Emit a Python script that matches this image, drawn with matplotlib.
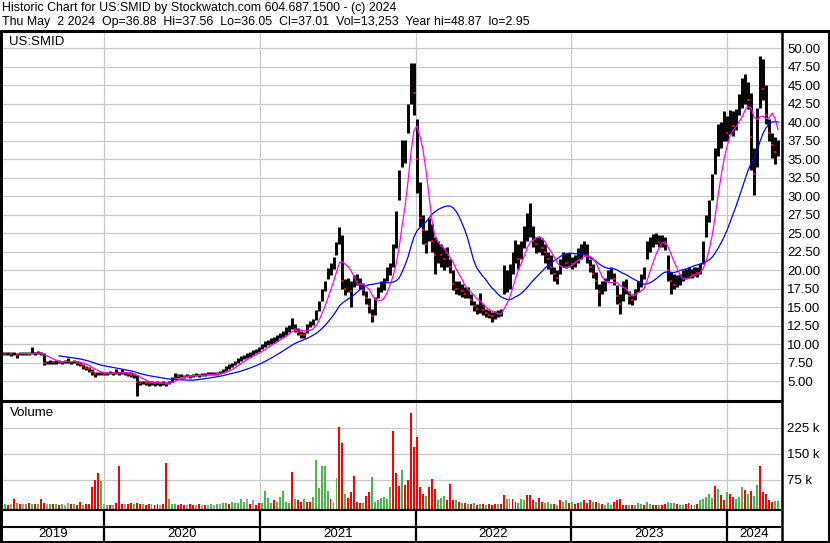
import numpy as np
import pandas as pd
import matplotlib
matplotlib.use('Agg')
import matplotlib.pyplot as plt
import matplotlib.dates as mdates
from matplotlib.lines import Line2D

plt.rcParams['font.family'] = ['Liberation Sans', 'DejaVu Sans']

# ---------------- data (weekly) ----------------
dates = pd.date_range('2019-05-07', periods=261, freq='7D')

close = [
    8.8, 8.7, 8.8, 8.7, 8.8, 8.6, 8.7, 8.8, 8.8, 8.7,
    8.9, 8.8, 8.9, 8.8, 7.5, 7.6, 7.7, 7.6, 7.6, 7.7,
    7.6, 7.7, 7.7, 7.6, 7.7, 7.5, 7.3, 7.0, 6.8, 6.6,
    6.2, 6.0, 6.1, 6.1, 6.0, 6.1, 6.2, 6.1, 6.2, 6.1,
    6.3, 6.1, 6.0, 5.9, 5.8, 4.9, 4.8, 4.9, 4.8, 4.7,
    4.8, 4.7, 4.8, 4.7, 4.8, 4.6, 4.9, 5.4, 5.8, 5.7,
    5.8, 5.6, 5.8, 5.7, 5.8, 5.9, 5.8, 5.9, 5.9, 6.0,
    6.0, 6.1, 6.0, 6.2, 6.4, 6.7, 7.0, 7.2, 7.5, 7.9,
    8.1, 8.3, 8.5, 8.6, 8.9, 9.1, 9.3, 9.7, 10.0, 10.3,
    10.4, 10.6, 10.9, 11.2, 11.4, 11.8, 12.2, 12.6, 12.0, 11.6,
    11.3, 11.2, 12.3, 12.8, 13.0, 14.0, 15.2, 16.8, 18.0, 19.5,
    20.2, 21.0, 23.0, 24.5, 18.6, 17.5, 18.2, 17.2, 18.6, 18.8,
    18.2, 17.4, 16.3, 15.2, 13.8, 15.5, 17.0, 17.8, 18.2, 19.5,
    20.4, 22.5, 26.5, 31.5, 35.5, 36.0, 40.5, 46.0, 44.0, 35.0,
    27.0, 25.5, 23.5, 25.5, 24.0, 22.0, 23.0, 22.0, 21.5, 21.8,
    20.5, 18.2, 17.5, 17.8, 17.2, 16.8, 17.0, 16.0, 15.2, 14.8,
    15.5, 14.6, 14.2, 14.0, 13.8, 14.0, 14.2, 14.3, 17.5, 18.5,
    19.0, 21.5, 22.5, 21.5, 23.0, 24.5, 25.5, 26.0, 24.0, 23.5,
    23.8, 23.0, 22.5, 21.5, 20.5, 19.5, 19.0, 20.5, 21.5, 21.0,
    21.5, 20.8, 21.2, 22.0, 22.5, 23.0, 22.0, 20.5, 19.5, 18.5,
    17.0, 17.5, 18.3, 19.2, 19.5, 18.8, 16.5, 15.5, 17.0, 17.8,
    16.5, 16.0, 16.8, 17.5, 18.5, 19.5, 22.5, 23.5, 24.0, 24.2,
    23.8, 24.0, 23.6, 20.0, 18.5, 18.0, 18.6, 18.8, 19.2, 19.5,
    19.6, 19.4, 19.8, 19.7, 20.3, 23.0, 26.0, 28.5, 31.5, 35.5,
    37.5, 38.5, 39.5, 38.5, 40.0, 39.5, 40.5, 42.5, 43.5, 44.0,
    43.0, 38.0, 33.0, 40.5, 46.0, 44.5, 41.0, 38.5, 37.0, 36.0,
    37.0,
]

high = [
    8.95, 8.9, 9.0, 8.9, 8.9, 8.8, 8.9, 8.9, 9.0, 8.9,
    9.6, 9.0, 9.1, 9.0, 8.8, 7.8, 7.9, 7.8, 7.9, 7.9,
    7.8, 7.9, 8.2, 7.8, 7.9, 7.7, 7.6, 7.3, 7.1, 6.9,
    6.6, 6.3, 6.3, 6.3, 6.2, 6.3, 6.4, 6.3, 6.6, 6.3,
    6.6, 6.3, 6.2, 6.2, 6.0, 5.8, 5.1, 5.1, 5.0, 5.0,
    5.0, 4.9, 5.0, 4.9, 5.0, 4.9, 5.1, 5.6, 6.1, 6.0,
    6.0, 5.9, 6.0, 5.9, 6.0, 6.1, 6.0, 6.1, 6.1, 6.2,
    6.2, 6.3, 6.3, 6.4, 6.7, 7.0, 7.3, 7.5, 7.8, 8.2,
    8.4, 8.6, 8.8, 8.9, 9.2, 9.4, 9.6, 10.1, 10.4, 10.6,
    10.8, 11.0, 11.3, 11.5, 11.8, 12.3, 12.6, 13.6, 12.8, 12.2,
    11.8, 11.6, 12.8, 13.2, 13.4, 14.6, 15.9, 17.5, 18.6, 20.3,
    21.0, 21.8, 23.8, 25.9, 24.8, 18.8, 19.0, 18.5, 19.3, 19.5,
    18.9, 18.3, 17.2, 16.2, 14.8, 16.4, 17.8, 18.6, 18.9, 20.4,
    21.0, 23.5, 28.0, 33.5, 37.6, 37.6, 42.5, 48.0, 48.0, 40.5,
    32.0, 27.5, 25.5, 27.0, 26.3, 24.5, 24.0, 23.5, 23.0, 23.1,
    21.5, 20.0, 18.6, 18.6, 18.2, 17.8, 17.8, 16.8, 15.8, 15.5,
    16.9, 15.5, 14.8, 14.6, 14.4, 14.5, 14.6, 14.8, 20.7, 20.0,
    20.8, 22.5, 24.1, 23.5, 24.0, 26.0, 27.7, 29.1, 26.0, 24.5,
    24.5, 24.2, 23.5, 22.5, 22.0, 20.5, 20.0, 21.5, 22.5, 22.3,
    22.3, 21.8, 22.0, 23.0, 23.5, 23.9, 23.5, 21.5, 20.8, 19.8,
    18.2, 18.6, 19.0, 20.0, 20.4, 19.6, 18.0, 16.8, 18.6, 18.8,
    17.2, 16.8, 17.5, 18.6, 19.5, 20.4, 24.0, 24.5, 24.9, 25.0,
    24.8, 24.8, 24.5, 22.0, 19.8, 19.5, 19.3, 19.5, 20.0, 20.2,
    20.4, 20.2, 20.4, 20.5, 21.0, 24.0, 27.5, 29.5, 33.0, 36.5,
    39.8, 40.0, 41.5, 40.8, 41.6, 41.5, 41.8, 43.8, 46.0, 46.5,
    45.5, 44.0, 36.5, 42.0, 48.9, 48.5, 45.0, 40.5, 38.5, 38.0,
    37.6,
]

low = [
    8.6, 8.5, 8.6, 8.4, 8.6, 8.15, 8.5, 8.6, 8.6, 8.5,
    8.7, 8.6, 8.7, 8.6, 7.2, 7.3, 7.4, 7.4, 7.4, 7.5,
    7.4, 7.5, 7.5, 7.4, 7.5, 7.2, 7.0, 6.7, 6.5, 6.3,
    5.9, 5.6, 5.8, 5.9, 5.8, 5.9, 6.0, 5.9, 6.0, 5.9,
    6.0, 5.8, 5.7, 5.6, 5.5, 2.95, 4.5, 4.6, 4.5, 4.4,
    4.5, 4.4, 4.5, 4.4, 4.5, 4.3, 4.6, 4.9, 5.5, 5.5,
    5.6, 5.4, 5.6, 5.5, 5.6, 5.7, 5.6, 5.7, 5.7, 5.8,
    5.8, 5.9, 5.8, 6.0, 6.1, 6.4, 6.7, 6.9, 7.2, 7.5,
    7.8, 8.0, 8.2, 8.3, 8.5, 8.8, 9.0, 9.3, 9.6, 9.9,
    10.0, 10.2, 10.5, 10.8, 11.0, 11.3, 11.7, 12.0, 11.6, 11.2,
    10.9, 10.9, 11.5, 12.3, 12.6, 13.3, 14.5, 15.8, 17.2, 18.8,
    19.4, 20.2, 22.0, 23.5, 17.5, 16.6, 17.0, 15.0, 17.8, 18.0,
    17.5, 16.6, 15.5, 14.2, 13.0, 14.0, 16.2, 17.0, 17.4, 18.6,
    19.3, 20.5, 23.0, 29.5, 34.0, 34.5, 38.5, 42.5, 41.0, 30.5,
    25.8, 23.5, 22.3, 24.0, 22.5, 19.5, 21.0, 20.5, 20.0, 20.5,
    19.6, 17.3, 16.8, 16.6, 16.4, 16.2, 16.2, 15.3, 14.5, 14.1,
    14.2, 14.0, 13.7, 13.5, 13.0, 13.4, 13.7, 13.8, 16.8, 17.0,
    17.5, 19.5, 21.0, 20.2, 21.5, 23.0, 24.0, 24.5, 23.2, 22.3,
    22.5, 22.0, 21.0, 20.2, 19.5, 18.5, 18.2, 19.5, 20.5, 20.3,
    20.5, 20.2, 20.4, 21.0, 21.5, 22.0, 21.0, 19.8, 19.0, 17.5,
    15.2, 16.8, 17.2, 18.6, 18.8, 18.0, 15.5, 14.1, 15.8, 16.8,
    15.5, 15.3, 16.0, 17.0, 17.8, 18.8, 21.5, 22.5, 23.2, 23.5,
    23.1, 23.2, 22.8, 18.6, 16.8, 17.5, 17.7, 18.0, 18.6, 19.0,
    19.0, 19.0, 19.2, 19.1, 19.5, 20.9, 24.5, 26.5, 29.5, 33.0,
    35.5, 36.5, 37.5, 37.5, 38.4, 38.2, 39.0, 41.0, 42.0, 42.5,
    41.8, 33.5, 30.2, 34.0, 42.0, 43.0, 39.8, 37.5, 35.2, 34.4,
    35.5,
]

# volume in thousands
volume = [
    12, 5, 4, 5, 20, 8, 6, 5, 6, 8,
    7, 6, 5, 20, 8, 5, 7, 5, 6, 4,
    5, 4, 8, 6, 5, 4, 12, 4, 5, 6,
    54, 75, 96, 72, 5, 4, 3, 4, 8, 115,
    6, 5, 7, 8, 5, 8, 6, 7, 4, 5,
    6, 4, 5, 4, 5, 123, 20, 6, 5, 4,
    5, 3, 4, 5, 3, 4, 5, 4, 3, 4,
    5, 4, 5, 6, 8, 10, 7, 12, 8, 10,
    20, 12, 20, 7, 17, 4, 8, 8, 43, 22,
    8, 17, 12, 27, 44, 12, 8, 99, 20, 17,
    12, 20, 12, 12, 27, 134, 51, 115, 115, 44,
    20, 8, 80, 228, 182, 34, 22, 39, 86, 12,
    8, 8, 29, 41, 83, 12, 17, 22, 25, 20,
    56, 216, 96, 58, 104, 60, 75, 269, 171, 198,
    56, 36, 29, 56, 77, 48, 17, 22, 30, 17,
    63, 17, 17, 12, 8, 8, 6, 5, 8, 4,
    7, 5, 4, 5, 4, 6, 5, 5, 32, 20,
    20, 20, 12, 8, 20, 17, 32, 32, 17, 12,
    22, 12, 8, 12, 5, 6, 3, 17, 12, 17,
    8, 12, 5, 8, 12, 17, 8, 17, 12, 12,
    8, 5, 4, 8, 4, 12, 17, 20, 4, 3,
    4, 4, 4, 8, 6, 4, 12, 6, 3, 4,
    4, 3, 6, 12, 8, 8, 5, 4, 3, 6,
    8, 3, 4, 5, 17, 20, 27, 36, 22, 58,
    48, 32, 17, 41, 36, 27, 20, 25, 54, 46,
    36, 44, 30, 60, 115, 41, 36, 17, 12, 14,
    13,
]

# bar colour codes: g = up, r = down, k = unchanged
vol_dir = (
    "ggrkrgrkgr"  # 0-9
    "grgrrkgrgr"  # 10-19
    "gkkrgrrgrr"  # 20-29
    "rrrgkgrkrr"  # 30-39
    "rkrrgrrgrr"  # 40-49
    "grrkrrgggr"  # 50-59
    "rrkrrkrkrk"  # 60-69
    "gkgkggrggg"  # 70-79
    "ggkrkrrggg"  # 80-89
    "grgggggrgr"  # 90-99
    "rgrrgggggg"  # 100-109
    "rggrrgrrrr"  # 110-119
    "rgrrgggggg"  # 120-129
    "grrrgrrrrr"  # 130-139
    "rrgrrrgggr"  # 140-149
    "rrgrgrgrgr"  # 150-159
    "grgrrrgrrg"  # 160-169
    "grrgggrrrg"  # 170-179
    "rrgggrgrgg"  # 180-189
    "rgrrgrrrgr"  # 190-199
    "grgggrrrrr"  # 200-209
    "grgggrggrr"  # 210-219
    "grrgggrggr"  # 220-229
    "rrgrgggggr"  # 230-239
    "grrgrrgggr"  # 240-249
    "grggrrrrrg"  # 250-259
    "g"           # 260
)

years = ['2019', '2020', '2021', '2022', '2023', '2024']
price_ticks = [5.0, 7.5, 10.0, 12.5, 15.0, 17.5, 20.0, 22.5, 25.0, 27.5, 30.0,
               32.5, 35.0, 37.5, 40.0, 42.5, 45.0, 47.5, 50.0]
vol_ticks = [75, 150, 225]
vol_tick_labels = ['75 k', '150 k', '225 k']

header1 = "Historic Chart for US:SMID by Stockwatch.com 604.687.1500 - (c) 2024"
header2 = ("Thu May  2 2024  Op=36.88  Hi=37.56  Lo=36.05  Cl=37.01  "
           "Vol=13,253  Year hi=48.87  lo=2.95")

# ---------------- figure ----------------
W, H = 830, 543
fig = plt.figure(figsize=(W / 100, H / 100), dpi=100)
fig.patch.set_facecolor('white')


def rect(x0, y0, x1, y1):
    return [x0 / W, 1 - y1 / H, (x1 - x0) / W, (y1 - y0) / H]


def hline(y, x0, x1, lw):
    fig.add_artist(Line2D([x0 / W, x1 / W], [1 - y / H, 1 - y / H],
                          color='black', lw=lw, solid_capstyle='butt'))


def vline(x, y0, y1, lw):
    fig.add_artist(Line2D([x / W, x / W], [1 - y0 / H, 1 - y1 / H],
                          color='black', lw=lw, solid_capstyle='butt'))


xmin = mdates.date2num(pd.Timestamp('2019-05-05'))
xmax = mdates.date2num(pd.Timestamp('2024-05-07'))
year_bounds = [mdates.date2num(pd.Timestamp(f'{y}-01-01')) for y in range(2020, 2025)]
x = mdates.date2num(dates)

grid_c = '#c8c8c8'

# price panel
ax = fig.add_axes(rect(1.5, 31, 781, 400))
ax.set_xlim(xmin, xmax)
ax.set_ylim(2.47, 52.34)
ax.set_yticks(price_ticks, labels=[f'{t:.2f}' for t in price_ticks])
ax.yaxis.tick_right()
ax.tick_params(axis='y', length=0, pad=4.5, labelsize=9.5)
ax.set_xticks(year_bounds)
ax.tick_params(axis='x', length=0, labelbottom=False)
ax.grid(True, color=grid_c, lw=0.9)
ax.set_axisbelow(True)
for s in ax.spines.values():
    s.set_visible(False)

c = np.array(close)
ma_fast = pd.Series(c).rolling(6).mean()
ma_slow = pd.Series(c).rolling(20).mean()
ax.vlines(x, low, high, color='black', lw=2.1, zorder=3)
down = np.r_[False, c[1:] < c[:-1]]
ax.plot(x[down], c[down], 's', color='red', ms=1.8, mew=0, zorder=4)
ax.plot(x, ma_slow, color='#0000ff', lw=0.9, zorder=5)
ax.plot(x, ma_fast, color='#ff00ff', lw=0.9, zorder=5)
ax.text(8 / 779.5, 1 - 11 / 369, 'US:SMID', transform=ax.transAxes,
        fontsize=9.5, va='center', ha='left')

# volume panel
axv = fig.add_axes(rect(1.5, 402, 781, 509))
axv.set_xlim(xmin, xmax)
axv.set_ylim(-8.7, 300)
axv.set_yticks(vol_ticks, labels=vol_tick_labels)
axv.yaxis.tick_right()
axv.tick_params(axis='y', length=0, pad=4.5, labelsize=9.5)
axv.set_xticks(year_bounds)
axv.tick_params(axis='x', length=0, labelbottom=False)
axv.grid(True, color=grid_c, lw=0.9)
axv.set_axisbelow(True)
for s in axv.spines.values():
    s.set_visible(False)
cmap = {'g': '#4cb749', 'r': '#ff0000', 'k': '#a0a0a0'}
vcols = [cmap[ch] for ch in vol_dir]
vol = np.array(volume, dtype=float)
axv.bar(x, vol + 8.7, bottom=-8.7, width=4.6, color=vcols, lw=0, zorder=3)
axv.text(8 / 779.5, 1 - 11 / 107, 'Volume', transform=axv.transAxes,
         fontsize=9.5, va='center', ha='left')

# bottom date band
axb = fig.add_axes(rect(1.5, 509, 781, 541))
axb.set_xlim(xmin, xmax)
axb.set_ylim(0, 1)
axb.axis('off')
for xb in year_bounds:
    axb.plot([xb, xb], [0, 1], color='black', lw=1.6, solid_capstyle='butt')
edges = [xmin] + year_bounds + [xmax]
for i, y in enumerate(years):
    axb.text((edges[i] + edges[i + 1]) / 2, 0.22, y, ha='center', va='center',
             fontsize=9.5)

# frame lines
hline(30.5, 0, 830, 2.2)
hline(401, 0, 781, 2.2)
hline(509.5, 0, 781, 1.5)
hline(527, 0, 781, 1.5)
hline(541.5, 0, 830, 1.5)
vline(1, 30, 542, 2.2)
vline(781.5, 30, 542, 1.8)
vline(829, 30, 542, 1.5)

# header
fig.text(2 / W, 1 - 8 / H, header1, fontsize=8.9, va='center', ha='left')
fig.text(2 / W, 1 - 22 / H, header2, fontsize=8.9, va='center', ha='left')

fig.savefig('out.png', dpi=100, facecolor='white')
